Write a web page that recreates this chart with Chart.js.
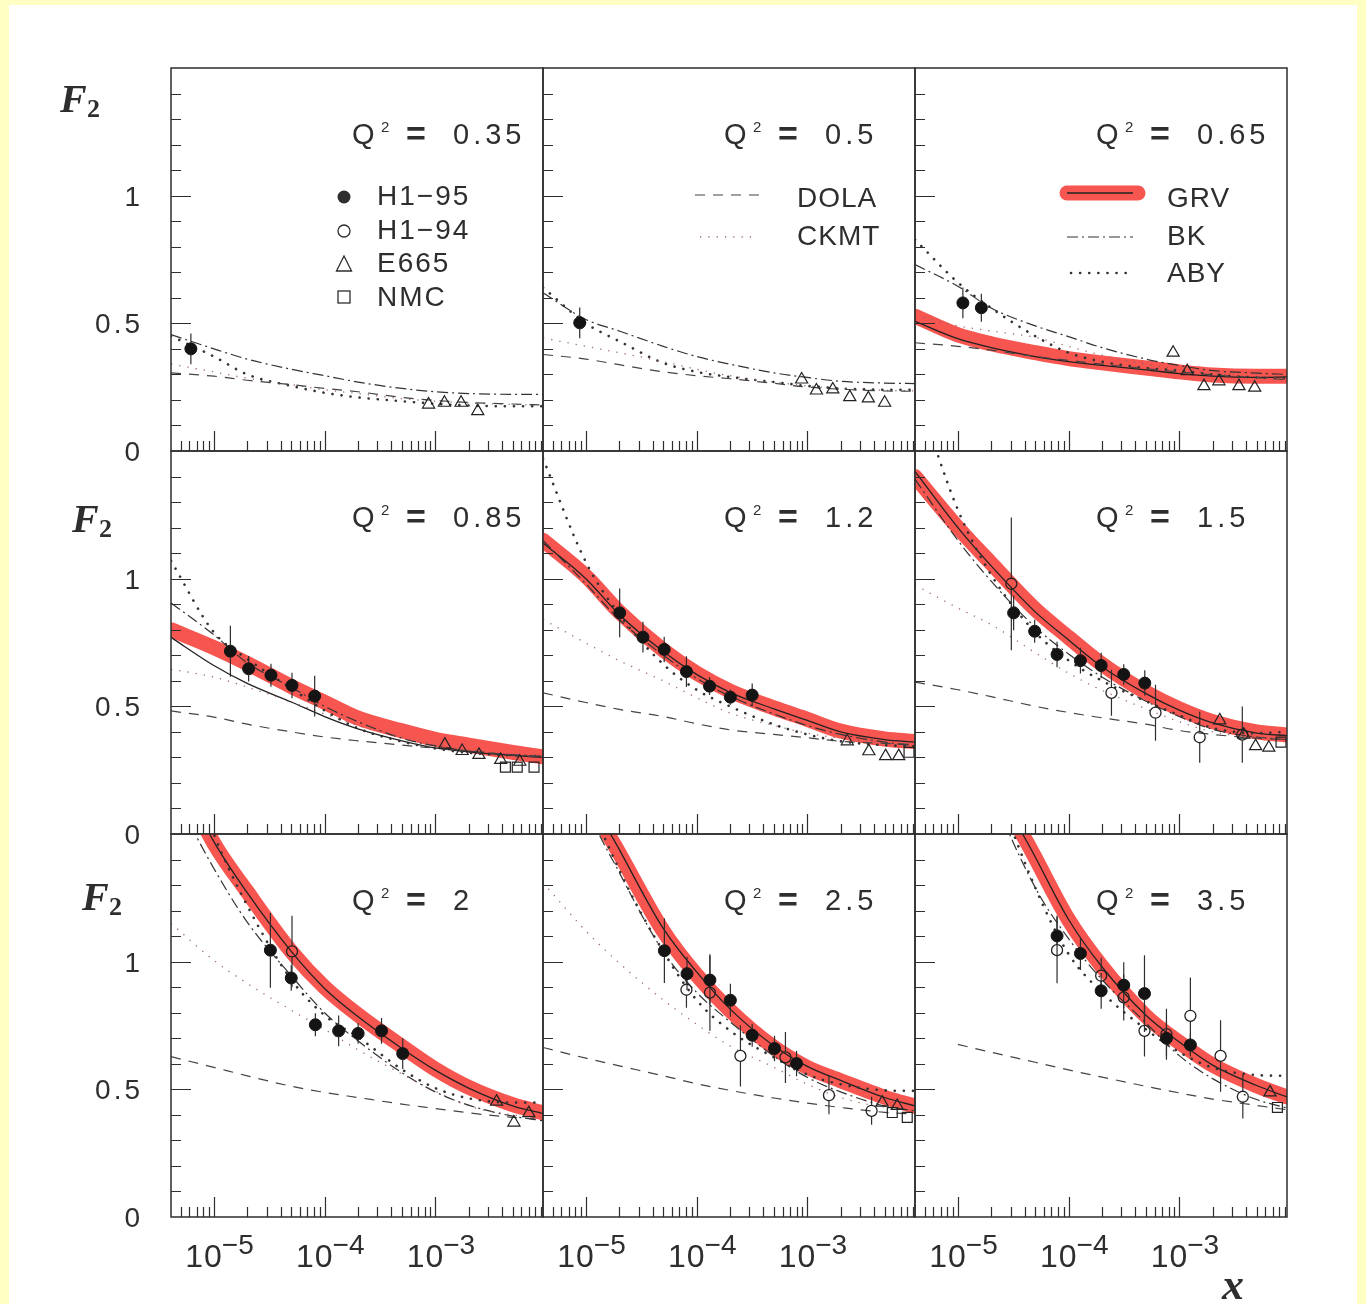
<!DOCTYPE html>
<html>
<head>
<meta charset="utf-8">
<title>F2 at low Q2</title>
<script src="https://cdn.jsdelivr.net/npm/chart.js@4.4.1/dist/chart.umd.min.js"></script>
<style>
    html, body { margin: 0; padding: 0; overflow: hidden; background: #ffffc4; }
    #sheet { position: absolute; left: 9px; top: 5px; width: 1348px; height: 1299px; background: #fff; }
    canvas { position: absolute; }
</style>
</head>
<body>
<div id="sheet"></div>
<script>
    // Q^2 of each panel, row by row
    var Q2 = ['0.35', '0.5', '0.65', '0.85', '1.2', '1.5', '2', '2.5', '3.5'];

    var X_CURVE = [4.1e-6, 1e-5, 2e-5, 5e-5, 1e-4, 2e-4, 5e-4, 1e-3, 2e-3, 5e-3, 9.4e-3];

    // model curves, one row per panel (null = not drawn)
    var GRV_BAND = [
        null,
        null,
        [0.528, 0.455, 0.42, 0.385, 0.362, 0.345, 0.325, 0.31, 0.298, 0.293, 0.293],
        [0.80, 0.73, 0.668, 0.578, 0.516, 0.454, 0.404, 0.371, 0.348, 0.32, 0.302],
        [1.15, 1.01, 0.87, 0.72, 0.63, 0.56, 0.494, 0.449, 0.403, 0.372, 0.362],
        [1.40, 1.20, 1.06, 0.88, 0.77, 0.665, 0.555, 0.49, 0.44, 0.40, 0.388],
        [1.80, 1.464, 1.274, 1.04, 0.90, 0.792, 0.668, 0.579, 0.508, 0.44, 0.408],
        [2.1, 1.66, 1.425, 1.12, 0.948, 0.809, 0.664, 0.586, 0.534, 0.469, 0.434],
        [null, 2.1, 1.74, 1.407, 1.164, 0.981, 0.787, 0.684, 0.595, 0.514, 0.47]
    ];
    var GRV_LINE = [
        null,
        null,
        [0.508, 0.44, 0.405, 0.37, 0.35, 0.335, 0.318, 0.303, 0.293, 0.288, 0.29],
        [0.77, 0.66, 0.59, 0.517, 0.46, 0.412, 0.365, 0.337, 0.322, 0.308, 0.30],
        [1.14, 1.0, 0.86, 0.715, 0.625, 0.555, 0.49, 0.445, 0.40, 0.37, 0.36],
        [1.42, 1.20, 1.05, 0.87, 0.76, 0.655, 0.55, 0.485, 0.435, 0.395, 0.385],
        [1.80, 1.47, 1.27, 1.04, 0.895, 0.785, 0.66, 0.575, 0.505, 0.435, 0.405],
        [2.1, 1.68, 1.44, 1.13, 0.96, 0.815, 0.67, 0.59, 0.535, 0.468, 0.435],
        [null, 2.1, 1.74, 1.41, 1.165, 0.98, 0.79, 0.685, 0.595, 0.515, 0.47]
    ];
    var BK = [
        [0.456, 0.40, 0.36, 0.32, 0.295, 0.27, 0.245, 0.232, 0.225, 0.222, 0.222],
        [0.62, 0.515, 0.47, 0.41, 0.37, 0.34, 0.306, 0.288, 0.273, 0.266, 0.264],
        [0.73, 0.645, 0.56, 0.49, 0.448, 0.405, 0.36, 0.335, 0.315, 0.305, 0.30],
        [0.905, 0.78, 0.67, 0.575, 0.50, 0.44, 0.375, 0.345, 0.325, 0.31, 0.305],
        [1.15, 0.98, 0.84, 0.70, 0.61, 0.54, 0.47, 0.425, 0.39, 0.36, 0.345],
        [1.39, 1.15, 0.99, 0.81, 0.705, 0.615, 0.52, 0.46, 0.41, 0.38, 0.37],
        [1.68, 1.365, 1.155, 0.945, 0.80, 0.69, 0.565, 0.49, 0.438, 0.395, 0.377],
        [2.2, 1.62, 1.35, 1.04, 0.88, 0.765, 0.63, 0.547, 0.49, 0.435, 0.416],
        [null, 2.1, 1.68, 1.29, 1.09, 0.93, 0.76, 0.632, 0.542, 0.46, 0.427]
    ];
    var ABY = [
        [0.45, 0.37, 0.30, 0.255, 0.228, 0.21, 0.195, 0.185, 0.178, 0.175, 0.175],
        [0.64, 0.50, 0.43, 0.345, 0.31, 0.29, 0.27, 0.255, 0.245, 0.24, 0.24],
        [0.828, 0.66, 0.56, 0.45, 0.385, 0.35, 0.325, 0.315, 0.30, 0.288, 0.285],
        [1.07, 0.79, 0.686, 0.57, 0.484, 0.414, 0.362, 0.335, 0.318, 0.308, 0.305],
        [1.47, 1.065, 0.86, 0.665, 0.565, 0.50, 0.429, 0.39, 0.363, 0.348, 0.344],
        [1.75, 1.27, 1.015, 0.79, 0.68, 0.60, 0.52, 0.465, 0.415, 0.395, 0.40],
        [2.0, 1.50, 1.22, 0.93, 0.79, 0.705, 0.578, 0.505, 0.465, 0.448, 0.448],
        [2.3, 1.68, 1.36, 1.04, 0.85, 0.73, 0.625, 0.558, 0.52, 0.496, 0.494],
        [null, 2.2, 1.75, 1.29, 1.03, 0.88, 0.735, 0.646, 0.585, 0.556, 0.553]
    ];
    var DOLA = [
        [0.306, 0.293, 0.277, 0.26, 0.245, 0.232, 0.21, 0.198, 0.19, 0.184, 0.18],
        [0.378, 0.36, 0.338, 0.31, 0.295, 0.283, 0.265, 0.25, 0.242, 0.235, 0.234],
        [0.424, 0.41, 0.395, 0.37, 0.355, 0.34, 0.322, 0.31, 0.298, 0.287, 0.28],
        [0.482, 0.458, 0.43, 0.40, 0.38, 0.365, 0.348, 0.336, 0.325, 0.31, 0.30],
        [0.553, 0.515, 0.488, 0.46, 0.432, 0.408, 0.39, 0.377, 0.363, 0.355, 0.35],
        [0.595, 0.565, 0.538, 0.50, 0.476, 0.455, 0.43, 0.405, 0.39, 0.375, 0.37],
        [0.628, 0.586, 0.553, 0.512, 0.488, 0.468, 0.442, 0.425, 0.408, 0.39, 0.383],
        [0.664, 0.622, 0.592, 0.553, 0.522, 0.496, 0.466, 0.446, 0.429, 0.41, 0.403],
        [null, 0.676, 0.645, 0.606, 0.576, 0.548, 0.512, 0.486, 0.462, 0.437, 0.42]
    ];
    var CKMT = [
        [0.34, 0.31, 0.285, 0.26, 0.24, 0.225, 0.205, 0.195, 0.188, 0.182, 0.18],
        [0.443, 0.41, 0.385, 0.35, 0.32, 0.295, 0.27, 0.255, 0.245, 0.238, 0.235],
        [0.53, 0.49, 0.47, 0.445, 0.41, 0.375, 0.34, 0.32, 0.305, 0.29, 0.285],
        [0.645, 0.615, 0.575, 0.518, 0.47, 0.425, 0.38, 0.352, 0.33, 0.312, 0.305],
        [0.84, 0.748, 0.679, 0.60, 0.534, 0.474, 0.425, 0.395, 0.375, 0.357, 0.35],
        [0.975, 0.885, 0.82, 0.71, 0.63, 0.563, 0.49, 0.44, 0.40, 0.38, 0.375],
        [1.15, 1.005, 0.915, 0.81, 0.735, 0.655, 0.56, 0.493, 0.435, 0.40, 0.39],
        [1.31, 1.12, 0.995, 0.85, 0.755, 0.67, 0.586, 0.52, 0.468, 0.43, 0.42],
        null
    ];

    // data points [x, F2, error], one list per panel
    var H1_95 = [
        [[6.2e-6, 0.40, 0.06]],
        [[8.8e-6, 0.502, 0.06]],
        [[1.11e-5, 0.58, 0.06], [1.63e-5, 0.561, 0.055]],
        [[1.41e-5, 0.716, 0.1], [2.06e-5, 0.647, 0.05], [3.28e-5, 0.622, 0.045], [5.08e-5, 0.582, 0.05], [8.14e-5, 0.54, 0.08]],
        [[2.02e-5, 0.866, 0.095], [3.28e-5, 0.771, 0.06], [5.1e-5, 0.723, 0.05], [8.1e-5, 0.636, 0.06], [1.31e-4, 0.579, 0.035], [2.02e-4, 0.536, 0.03], [3.18e-4, 0.544, 0.045]],
        [[3.19e-5, 0.866, 0.068], [4.94e-5, 0.794, 0.045], [7.87e-5, 0.703, 0.05], [1.28e-4, 0.679, 0.05], [1.97e-4, 0.66, 0.05], [3.15e-4, 0.625, 0.04], [4.88e-4, 0.591, 0.05]],
        [[3.24e-5, 1.045, 0.147], [5.0e-5, 0.936, 0.05], [8.26e-5, 0.753, 0.045], [1.34e-4, 0.729, 0.06], [2.01e-4, 0.719, 0.04], [3.27e-4, 0.729, 0.05], [5.08e-4, 0.64, 0.06]],
        [[5.12e-5, 1.043, 0.127], [8.2e-5, 0.953, 0.065], [1.32e-4, 0.928, 0.095], [2.02e-4, 0.849, 0.065], [3.18e-4, 0.712, 0.045], [5.06e-4, 0.66, 0.05], [8.0e-4, 0.601, 0.05]],
        [[7.87e-5, 1.101, 0.08], [1.28e-4, 1.032, 0.065], [1.97e-4, 0.886, 0.07], [3.15e-4, 0.908, 0.09], [4.85e-4, 0.875, 0.15], [7.66e-4, 0.70, 0.07], [1.26e-3, 0.674, 0.045]]
    ];
    var H1_94 = [
        [], [], [], [], [],
        [[3.04e-5, 0.98, 0.26], [2.44e-4, 0.553, 0.09], [6.1e-4, 0.475, 0.11], [1.53e-3, 0.379, 0.1], [3.71e-3, 0.389, 0.11]],
        [[5.08e-5, 1.04, 0.14]],
        [[8.1e-5, 0.89, 0.07], [1.32e-4, 0.879, 0.15], [2.49e-4, 0.631, 0.12], [6.35e-4, 0.625, 0.1], [1.57e-3, 0.477, 0.075], [3.81e-3, 0.416, 0.055]],
        [[7.87e-5, 1.045, 0.13], [1.97e-4, 0.945, 0.07], [3.15e-4, 0.86, 0.09], [4.85e-4, 0.729, 0.1], [7.66e-4, 0.716, 0.1], [1.26e-3, 0.788, 0.15], [2.36e-3, 0.631, 0.14], [3.75e-3, 0.471, 0.085]]
    ];
    var E665 = [
        [[8.7e-4, 0.182], [1.21e-3, 0.189], [1.71e-3, 0.189], [2.42e-3, 0.156]],
        [[8.9e-4, 0.28], [1.21e-3, 0.237], [1.70e-3, 0.241], [2.42e-3, 0.211], [3.56e-3, 0.206], [5.0e-3, 0.189]],
        [[8.8e-4, 0.385], [1.18e-3, 0.313], [1.67e-3, 0.254], [2.28e-3, 0.273], [3.46e-3, 0.254], [4.8e-3, 0.248]],
        [[1.22e-3, 0.35], [1.75e-3, 0.325], [2.48e-3, 0.31], [3.9e-3, 0.29], [5.8e-3, 0.283]],
        [[2.3e-3, 0.363], [3.6e-3, 0.324], [5.1e-3, 0.305], [6.7e-3, 0.305]],
        [[2.32e-3, 0.445], [3.83e-3, 0.389], [4.89e-3, 0.344], [6.44e-3, 0.338]],
        [[3.58e-3, 0.452], [5.13e-3, 0.37], [7.0e-3, 0.407]],
        [[4.75e-3, 0.448], [6.5e-3, 0.435]],
        [[6.6e-3, 0.488]]
    ];
    var NMC = [
        [], [], [],
        [[4.3e-3, 0.262], [5.5e-3, 0.262], [7.8e-3, 0.262]],
        [[8.3e-3, 0.32]],
        [[8.3e-3, 0.36]],
        [],
        [[5.86e-3, 0.409], [8.0e-3, 0.39]],
        [[7.7e-3, 0.429]]
    ];

    // axes
    var X_MIN = 4.1e-6, X_MAX = 9.4e-3, Y_MIN = 0, Y_MAX = 1.5;
    var Y_LABELS = [0, 0.5, 1];
    var X_LABELS = [1e-5, 1e-4, 1e-3];
    var X_LABEL_EXP = ['\u22125', '\u22124', '\u22123'];

    // layout of the 3x3 grid (page pixels)
    var COL_LEFT = [171, 543, 915], ROW_TOP = [68, 451, 834];
    var PANEL_W = 372, PANEL_H = 383;
    var F2_OFF = [[-111, 44], [-99, 81], [-89, 76]];

    var INK = '#2e2e2e';
    var SANS = '"Liberation Sans", Arial, sans-serif';
    var SERIF = '"Liberation Serif", "Times New Roman", serif';
    var BAND_COLOR = 'rgba(244, 52, 46, 0.84)';
    var CKMT_COLOR = 'rgba(150, 95, 95, 0.9)';
    var DASH_DOLA = [10, 8], DASH_CKMT = [1.3, 7], DASH_BK = [11, 4, 2, 4], DASH_ABY = [0.1, 9];

    function txt(ctx, s, x, y, font, align, spacing) {
        ctx.save();
        ctx.font = font;
        ctx.fillStyle = INK;
        ctx.textAlign = align || 'left';
        ctx.textBaseline = 'alphabetic';
        if ('letterSpacing' in ctx) ctx.letterSpacing = (spacing || 0) + 'px';
        if (align === 'right' && spacing) x += spacing;
        ctx.fillText(s, x, y);
        ctx.restore();
    }

    function seg(ctx, x1, x2, y, width, color, dash, cap) {
        ctx.save();
        ctx.beginPath();
        ctx.setLineDash(dash || []);
        ctx.lineCap = cap || 'butt';
        ctx.lineWidth = width;
        ctx.strokeStyle = color;
        ctx.moveTo(x1, y);
        ctx.lineTo(x2, y);
        ctx.stroke();
        ctx.restore();
    }

    var panelDeco = {
        id: 'panelDeco',
        beforeDatasetDraw: function (chart, args) {
            var ds = chart.data.datasets[args.index];
            if (!ds.errs) return;
            var ctx = chart.ctx, ys = chart.scales.y, r = ds.pointRadius;
            ctx.save();
            ctx.strokeStyle = INK;
            ctx.lineWidth = 1.2;
            ctx.beginPath();
            args.meta.data.forEach(function (pt, k) {
                var e = ds.errs[k];
                if (!e) return;
                var v = ds.data[k].y;
                var yTop = ys.getPixelForValue(v + e), yBot = ys.getPixelForValue(v - e);
                if (pt.y - r > yTop) { ctx.moveTo(pt.x, yTop); ctx.lineTo(pt.x, pt.y - r); }
                if (yBot > pt.y + r) { ctx.moveTo(pt.x, pt.y + r); ctx.lineTo(pt.x, yBot); }
            });
            ctx.stroke();
            ctx.restore();
        },
        afterDraw: function (chart, args, opts) {
            var i = opts.idx, col = i % 3, row = Math.floor(i / 3);
            var ctx = chart.ctx, a = chart.chartArea, xs = chart.scales.x, ys = chart.scales.y;
            var L = a.left, T = a.top;

            // frame and inward ticks
            ctx.save();
            ctx.strokeStyle = INK;
            ctx.lineWidth = 1.5;
            ctx.strokeRect(a.left, a.top, a.right - a.left, a.bottom - a.top);
            ctx.lineWidth = 1.2;
            ctx.beginPath();
            for (var k = 1; k < 15; k++) {
                var py = Math.round(ys.getPixelForValue(k / 10)) + 0.5;
                ctx.moveTo(a.left, py);
                ctx.lineTo(a.left + ((k === 5 || k === 10) ? 20 : 10), py);
            }
            for (var d = -6; d <= -2; d++) {
                for (var m = 1; m < 10; m++) {
                    var xv = m * Math.pow(10, d);
                    if (xv <= X_MIN * 1.01 || xv >= X_MAX * 0.99) continue;
                    var px = Math.round(xs.getPixelForValue(xv)) + 0.5;
                    ctx.moveTo(px, a.bottom);
                    ctx.lineTo(px, a.bottom - (m === 1 ? 20 : 10));
                }
            }
            ctx.stroke();
            ctx.restore();

            // panel title
            txt(ctx, 'Q', L + 181, T + 76, '29px ' + SANS);
            txt(ctx, '2', L + 210, T + 64, '15px ' + SANS);
            txt(ctx, '=', L + 235, T + 77, 'bold 34px ' + SANS);
            txt(ctx, Q2[i], L + 282, T + 76, '29px ' + SANS, 'left', 4);

            // legends
            if (i === 0) {
                ctx.save();
                ctx.strokeStyle = INK;
                ctx.fillStyle = INK;
                ctx.lineWidth = 1.3;
                var mx = L + 173;
                ctx.beginPath(); ctx.arc(mx, T + 129, 6.5, 0, 2 * Math.PI); ctx.fill();
                ctx.beginPath(); ctx.arc(mx, T + 163, 6, 0, 2 * Math.PI); ctx.stroke();
                ctx.beginPath(); ctx.moveTo(mx, T + 188); ctx.lineTo(mx + 7.5, T + 203); ctx.lineTo(mx - 7.5, T + 203); ctx.closePath(); ctx.stroke();
                ctx.strokeRect(mx - 6, T + 223, 12, 12);
                ctx.restore();
                txt(ctx, 'H1\u221295', L + 206, T + 137, '28px ' + SANS, 'left', 2);
                txt(ctx, 'H1\u221294', L + 206, T + 171, '28px ' + SANS, 'left', 2);
                txt(ctx, 'E665', L + 206, T + 204, '28px ' + SANS, 'left', 2);
                txt(ctx, 'NMC', L + 206, T + 238, '28px ' + SANS, 'left', 2);
            } else if (i === 1) {
                seg(ctx, L + 152, L + 219, T + 127, 1.2, '#444', DASH_DOLA);
                seg(ctx, L + 157, L + 215, T + 169, 1.3, CKMT_COLOR, DASH_CKMT);
                txt(ctx, 'DOLA', L + 254, T + 139, '28px ' + SANS, 'left', 1);
                txt(ctx, 'CKMT', L + 254, T + 177, '28px ' + SANS, 'left', 1);
            } else if (i === 2) {
                seg(ctx, L + 152, L + 223, T + 125, 15, BAND_COLOR, [], 'round');
                seg(ctx, L + 152, L + 218, T + 125, 1.3, '#222');
                seg(ctx, L + 152, L + 218, T + 169, 1.2, '#333', DASH_BK);
                seg(ctx, L + 156, L + 214, T + 205, 2.6, '#333', DASH_ABY, 'round');
                txt(ctx, 'GRV', L + 252, T + 139, '28px ' + SANS, 'left', 1);
                txt(ctx, 'BK', L + 252, T + 177, '28px ' + SANS, 'left', 1);
                txt(ctx, 'ABY', L + 252, T + 214, '28px ' + SANS, 'left', 1);
            }

            // y labels and F2 on the left column
            if (col === 0) {
                Y_LABELS.forEach(function (v) {
                    txt(ctx, String(v), L - 31, ys.getPixelForValue(v) + 10, '28px ' + SANS, 'right', 3);
                });
                var f = F2_OFF[row];
                txt(ctx, 'F', L + f[0], T + f[1], 'bold italic 40px ' + SERIF);
                txt(ctx, '2', L + f[0] + 27, T + f[1] + 5, 'bold 26px ' + SERIF);
            }

            // x labels on the bottom row
            if (row === 2) {
                X_LABELS.forEach(function (v, k) {
                    var tx = xs.getPixelForValue(v);
                    txt(ctx, '10', tx + 8, a.bottom + 50, '32px ' + SANS, 'right', 1);
                    txt(ctx, X_LABEL_EXP[k], tx + 8, a.bottom + 37, '28px ' + SANS);
                });
                if (col === 2) txt(ctx, 'x', L + 307, a.bottom + 82, 'bold italic 44px ' + SERIF);
            }
        }
    };

    function curve(label, vals, style) {
        return Object.assign({
            label: label,
            data: X_CURVE.map(function (x, k) { return {x: x, y: vals[k]}; }),
            pointRadius: 0,
            fill: false,
            cubicInterpolationMode: 'monotone',
            clip: 0,
            order: 1
        }, style);
    }

    function marks(label, list, style) {
        return Object.assign({
            label: label,
            data: list.map(function (p) { return {x: p[0], y: p[1]}; }),
            errs: list.map(function (p) { return p[2] || 0; }),
            showLine: false,
            clip: 0,
            order: 0
        }, style);
    }

    Q2.forEach(function (q, i) {
        var col = i % 3, row = Math.floor(i / 3);
        var pad = {left: col === 0 ? 140 : 20, right: 20, top: 20, bottom: row === 2 ? 90 : 20};
        var cv = document.createElement('canvas');
        cv.width = PANEL_W + pad.left + pad.right;
        cv.height = PANEL_H + pad.top + pad.bottom;
        cv.style.left = (COL_LEFT[col] - pad.left) + 'px';
        cv.style.top = (ROW_TOP[row] - pad.top) + 'px';
        document.body.appendChild(cv);

        var datasets = [];
        datasets.push(marks('H1-95', H1_95[i], {pointStyle: 'circle', pointRadius: 6, pointBackgroundColor: '#141414', pointBorderColor: '#141414', pointBorderWidth: 1}));
        datasets.push(marks('H1-94', H1_94[i], {pointStyle: 'circle', pointRadius: 5.5, pointBackgroundColor: 'rgba(255,255,255,0)', pointBorderColor: '#222', pointBorderWidth: 1.3}));
        datasets.push(marks('E665', E665[i], {pointStyle: 'triangle', pointRadius: 7, pointBackgroundColor: 'rgba(255,255,255,0)', pointBorderColor: '#222', pointBorderWidth: 1.2}));
        datasets.push(marks('NMC', NMC[i], {pointStyle: 'rect', pointRadius: 7, pointBackgroundColor: 'rgba(255,255,255,0)', pointBorderColor: '#222', pointBorderWidth: 1.2}));
        if (DOLA[i]) datasets.push(curve('DOLA', DOLA[i], {borderColor: '#444', borderWidth: 1.2, borderDash: DASH_DOLA}));
        if (CKMT[i]) datasets.push(curve('CKMT', CKMT[i], {borderColor: CKMT_COLOR, borderWidth: 1.3, borderDash: DASH_CKMT}));
        if (ABY[i]) datasets.push(curve('ABY', ABY[i], {borderColor: '#333', borderWidth: 2.6, borderDash: DASH_ABY, borderCapStyle: 'round'}));
        if (BK[i]) datasets.push(curve('BK', BK[i], {borderColor: '#333', borderWidth: 1.2, borderDash: DASH_BK}));
        if (GRV_LINE[i]) datasets.push(curve('GRV', GRV_LINE[i], {borderColor: '#222', borderWidth: 1.3}));
        if (GRV_BAND[i]) datasets.push(curve('GRV band', GRV_BAND[i], {borderColor: BAND_COLOR, borderWidth: 15, borderCapStyle: 'round', borderJoinStyle: 'round', order: 2}));

        new Chart(cv.getContext('2d'), {
            type: 'line',
            data: {datasets: datasets},
            options: {
                responsive: false,
                animation: false,
                events: [],
                layout: {padding: pad},
                scales: {
                    x: {type: 'logarithmic', min: X_MIN, max: X_MAX, display: false},
                    y: {type: 'linear', min: Y_MIN, max: Y_MAX, display: false}
                },
                plugins: {
                    legend: {display: false},
                    tooltip: {enabled: false},
                    panelDeco: {idx: i}
                }
            },
            plugins: [panelDeco]
        });
    });
</script>
</body>
</html>
